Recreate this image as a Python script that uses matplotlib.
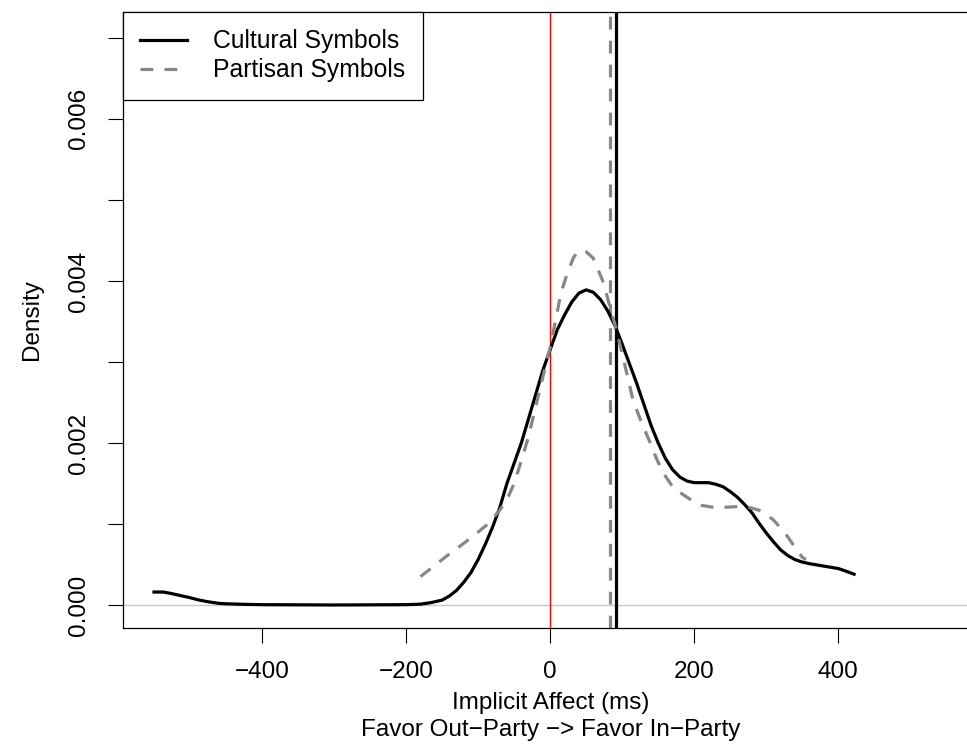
import numpy as np
import matplotlib.pyplot as plt

plt.rcParams['font.family'] = ['Liberation Sans', 'DejaVu Sans']

# density curves
cult_x = [-550, -537, -525, -510, -500, -487, -475, -460, -450, -425, -400, -300, -200, -180, -165,
          -150, -140, -130, -120, -110, -100, -90, -80, -70, -60, -50, -40, -30, -20, -10,
          0, 10, 20, 30, 40, 50, 60, 70, 80, 90, 100, 110, 120, 130, 140, 150, 160, 170, 180, 190,
          200, 210, 220, 230, 240, 250, 260, 270, 280, 290, 300, 310, 320, 330, 340, 350, 360,
          380, 400, 410, 422]
cult_y = [0.00016, 0.00016, 0.00014, 0.00011, 0.00009, 0.00006, 0.00004, 0.00002, 0.000015,
          0.000008, 0.000004, 0.0, 0.000004, 0.00001, 0.00003,
          0.00006, 0.00011, 0.00018, 0.00028, 0.0004, 0.00056, 0.00075, 0.00096, 0.0012, 0.0015,
          0.00175, 0.002, 0.0023, 0.0026, 0.0029,
          0.00315, 0.0034, 0.00358, 0.00374, 0.00385, 0.00389, 0.00386, 0.00377, 0.00363, 0.00345,
          0.00322, 0.00298, 0.00274, 0.00248, 0.00222, 0.002, 0.00181, 0.00167, 0.00158, 0.00153,
          0.00151, 0.00151, 0.00151, 0.00149, 0.00146, 0.0014, 0.00133, 0.00124, 0.00114, 0.00101,
          0.00089, 0.00078, 0.00068, 0.00061, 0.00056, 0.00053, 0.00051,
          0.00048, 0.00045, 0.00042, 0.00038]

part_x = [-180, -160, -140, -120, -100, -85, -70, -60, -50, -40, -30, -20, -10, 0, 5, 15, 24, 33,
          42, 50, 60, 67, 74, 83, 92, 100, 108, 115, 127, 139, 148, 157, 170, 180, 190, 200,
          210, 230, 250, 270, 290, 300, 310, 320, 330, 340, 350, 355]
part_y = [0.00035, 0.00049, 0.00063, 0.00076, 0.0009, 0.00101, 0.00117, 0.0013, 0.0015, 0.00178,
          0.00208, 0.00245, 0.00282, 0.00318, 0.0034, 0.00385, 0.0041, 0.0043,
          0.00438, 0.00436, 0.00428, 0.00413, 0.00398, 0.00368, 0.0034, 0.0031, 0.0028, 0.00253,
          0.00225, 0.002, 0.0018, 0.00163, 0.00146, 0.00139, 0.00133, 0.00127,
          0.00123, 0.0012, 0.00121, 0.00122, 0.00117, 0.00112, 0.00105, 0.00095, 0.00084,
          0.00071, 0.00059, 0.00056]

cult_mean = 91.7
part_mean = 83.3

xticks = [-400, -200, 0, 200, 400]
xlabels = ['\u2212400', '\u2212200', '0', '200', '400']
yticks = [0.0, 0.001, 0.002, 0.003, 0.004, 0.005, 0.006, 0.007]
ylabels = ['0.000', '', '0.002', '', '0.004', '', '0.006', '']

fig = plt.figure(figsize=(9.67, 7.47), dpi=100)
ax = fig.add_axes([123 / 967, 119 / 747, 855 / 967, 616 / 747])

ax.axhline(0, color='#c8c8c8', lw=1)
ax.axvline(0, color='red', lw=1)
ax.axvline(part_mean, color='#878787', lw=2.3, ls=(0, (4, 3.5)))
ax.axvline(cult_mean, color='black', lw=2.3)

ax.plot(cult_x, cult_y, color='black', lw=2.3, label='Cultural Symbols')
ax.plot(part_x, part_y, color='#878787', lw=2.3, ls=(0, (4, 3.5)), label='Partisan Symbols')

ax.set_xlim(-593, 594)
ax.set_ylim(-0.000284, 0.00732)

ax.set_xticks(xticks)
ax.set_xticklabels(xlabels)
ax.set_yticks(yticks)
ax.set_yticklabels(ylabels, rotation=90, va='center')
ax.tick_params(direction='out', length=11, width=0.8, labelsize=17.5, pad=13)
for s in ax.spines.values():
    s.set_linewidth(0.9)

ax.set_xlabel('Implicit Affect (ms)\nFavor Out\u2212Party \u2212> Favor In\u2212Party',
              fontsize=17.5, labelpad=6, linespacing=1.3)
ax.set_ylabel('Density', fontsize=17.5, labelpad=18)

leg = ax.legend(loc='upper left', bbox_to_anchor=(0, 1), borderaxespad=0, fontsize=17.8,
                fancybox=False, edgecolor='black', framealpha=1, handlelength=1.9,
                handletextpad=1.05, labelspacing=0.2, borderpad=0.7)
leg.get_frame().set_linewidth(0.9)

fig.savefig('out.png', dpi=100)
